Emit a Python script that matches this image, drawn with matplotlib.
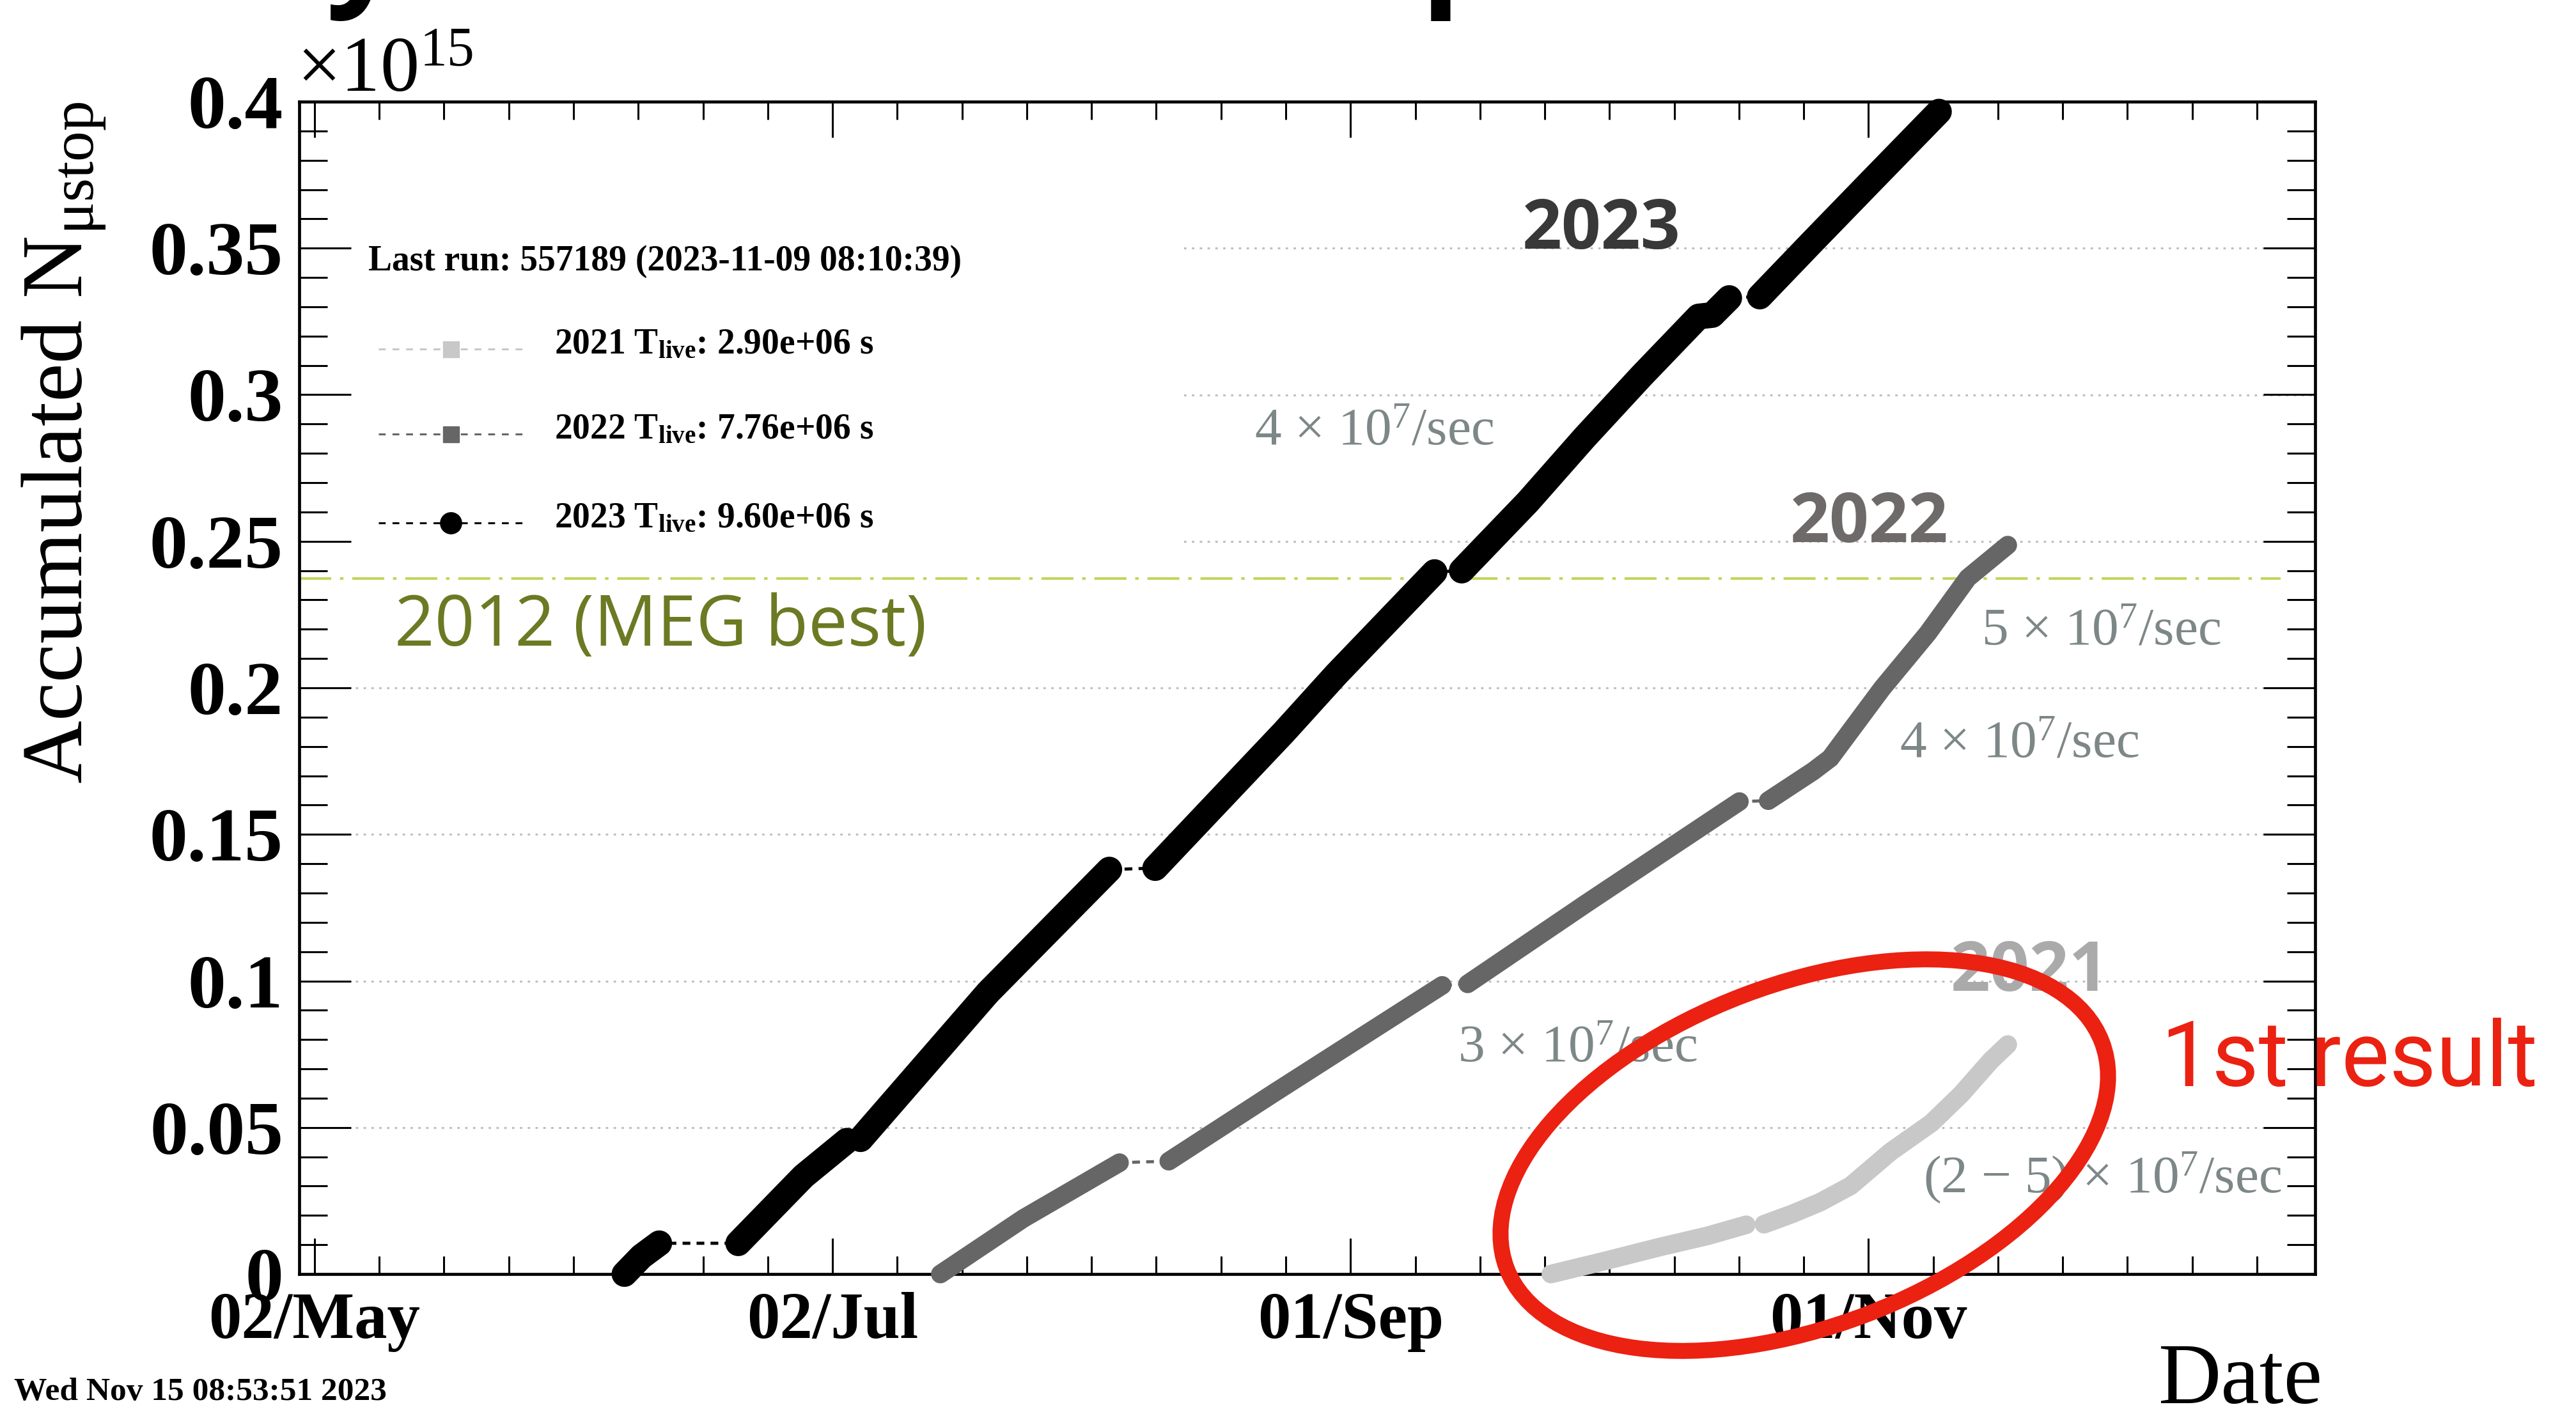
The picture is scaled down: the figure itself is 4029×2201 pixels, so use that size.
import matplotlib

matplotlib.use("Agg")
import matplotlib.dates as mdates
import matplotlib.pyplot as plt
import numpy as np
import pandas as pd
from matplotlib.lines import Line2D
from matplotlib.patches import Ellipse, Rectangle
from matplotlib.ticker import FixedLocator, FuncFormatter, MultipleLocator

W, H, DPI = 4030, 2201, 100
START = pd.Timestamp("2023-05-02")

# accumulated stopped muons (units of 1e15) against days since 2 May;
# each *_breaks entry is the index where a new data-taking period begins
days_2023 = [36.5, 38.5, 40.6, 49.9, 57.6, 62.7, 64.3, 79.3, 93.6, 99.0, 114.2,
             120.3, 131.9, 135.1, 142.9, 149.6, 156.3, 163.0, 164.6, 166.6,
             170.2, 176.5, 183.2, 191.3]
nmu_2023 = [0.0, 0.006, 0.0105, 0.0105, 0.0334, 0.0455, 0.0460, 0.0960, 0.1380,
            0.1385, 0.1850, 0.2045, 0.2395, 0.2400, 0.2635, 0.2855, 0.3065,
            0.3267, 0.3272, 0.3330, 0.3335, 0.3525, 0.3725, 0.3966]
breaks_2023 = [3, 6, 9, 13, 20]

days_2022 = [73.7, 83.5, 94.8, 100.6, 113.0, 132.8, 135.8, 149.8, 167.8, 171.2,
             176.5, 178.5, 184.6, 190.0, 194.7, 199.4]
nmu_2022 = [0.0, 0.0190, 0.0380, 0.0385, 0.0618, 0.0985, 0.0990, 0.1265, 0.1612,
            0.1615, 0.1716, 0.1760, 0.1998, 0.2187, 0.2375, 0.2487]
breaks_2022 = [3, 6, 9]

days_2021 = [145.6, 152.0, 158.4, 164.0, 168.6, 170.7, 174.0, 177.3, 180.9,
             185.6, 190.4, 193.9, 197.4, 199.4]
nmu_2021 = [0.0, 0.0045, 0.0092, 0.0130, 0.0168, 0.0170, 0.0205, 0.0245, 0.0301,
            0.0417, 0.0515, 0.0613, 0.0728, 0.0783]
breaks_2021 = [5]

meg_best = 0.2373
live_labels = ["2021 T$_{\\mathbf{live}}$: 2.90e+06 s",
               "2022 T$_{\\mathbf{live}}$: 7.76e+06 s",
               "2023 T$_{\\mathbf{live}}$: 9.60e+06 s"]
major_dates = ["2023-05-02", "2023-07-02", "2023-09-01", "2023-11-01"]

C2021, C2022, C2023 = "#c8c8c8", "#666666", "#000000"
RATE = "#7e8787"
RED = "#eb2112"

plt.rcParams.update({
    "font.family": "Liberation Serif",
    "mathtext.fontset": "custom",
    "mathtext.rm": "Liberation Serif",
    "mathtext.it": "Liberation Serif:italic",
    "mathtext.bf": "Liberation Serif:bold",
})


def fx(px):
    return px / W


def fy(py):
    return 1 - py / H


def to_num(days):
    return mdates.date2num(START + pd.to_timedelta(np.asarray(days), unit="D"))


def draw_series(ax, days, values, breaks, color, width):
    x = to_num(days)
    # thin dashed connector between runs, thick band for each period
    ax.plot(x, values, color=color, lw=3.5, ls=(0, (2.5, 2)), clip_on=False, zorder=3)
    edges = [0] + breaks + [len(days)]
    for lo, hi in zip(edges[:-1], edges[1:]):
        ax.plot(x[lo:hi], values[lo:hi], color=color, lw=width,
                solid_capstyle="round", solid_joinstyle="round",
                clip_on=False, zorder=4)


fig = plt.figure(figsize=(W / DPI, H / DPI), dpi=DPI)
ax = fig.add_axes([fx(468), fy(1993), fx(3621) - fx(468), fy(159) - fy(1993)])

ax.set_xlim(to_num([-1.8])[0], to_num([235.6])[0])
ax.set_ylim(0, 0.4)

# dotted grid, hidden under the legend box at the top left
for y in np.arange(0.05, 0.36, 0.05):
    ax.axhline(y, xmin=0.028, color="#bdbdbd", lw=2.2, ls=(0, (1.2, 2.8)), zorder=1)
ax.add_patch(Rectangle((0.0, 0.6096), 0.4367, 0.3904, transform=ax.transAxes,
                       facecolor="white", edgecolor="none", zorder=1.5))

ax.axhline(meg_best, xmax=0.983, color="#c3d45c", lw=3,
           ls=(0, (12, 3.3, 1.3, 3.3)), zorder=2)

draw_series(ax, days_2021, nmu_2021, breaks_2021, C2021, 21)
draw_series(ax, days_2022, nmu_2022, breaks_2022, C2022, 21)
draw_series(ax, days_2023, nmu_2023, breaks_2023, C2023, 29)

ax.xaxis.set_major_locator(FixedLocator(mdates.date2num(pd.to_datetime(major_dates))))
ax.xaxis.set_minor_locator(FixedLocator(to_num(np.arange(0, 32) * 61 / 8)))
ax.xaxis.set_major_formatter(mdates.DateFormatter("%d/%b"))
ax.yaxis.set_major_locator(MultipleLocator(0.05))
ax.yaxis.set_minor_locator(MultipleLocator(0.01))
ax.yaxis.set_major_formatter(FuncFormatter(lambda v, _: f"{v:g}"))

ax.tick_params(which="both", direction="in", top=True, right=True, width=2.2)
ax.tick_params(axis="x", which="major", length=40, pad=20, labelsize=74)
ax.tick_params(axis="x", which="minor", length=20)
ax.tick_params(axis="y", which="major", length=58, pad=18, labelsize=86)
ax.tick_params(axis="y", which="minor", length=32)
for label in ax.get_xticklabels() + ax.get_yticklabels():
    label.set_fontweight("bold")
for spine in ax.spines.values():
    spine.set_linewidth(3.4)

# axis titles and multiplier
fig.text(fx(464), fy(143), "×$10^{15}$", fontsize=88, va="baseline", ha="left")
fig.text(fx(128), fy(159), "Accumulated N$_{\\mathrm{μstop}}$", fontsize=98,
         rotation=90, rotation_mode="anchor", ha="right", va="baseline")
fig.text(fx(3632), fy(2195), "Date", fontsize=98, ha="right", va="baseline")
fig.text(fx(22), fy(2190), "Wed Nov 15 08:53:51 2023", fontsize=37,
         fontweight="bold", va="baseline")

# legend block
fig.text(fx(576), fy(423), "Last run: 557189 (2023-11-09 08:10:39)", fontsize=40,
         fontweight="bold", va="baseline")
legend_rows = [(553, C2021, "s", 18), (686, C2022, "s", 18), (825, C2023, "o", 24)]
for (base, color, marker, ms), text in zip(legend_rows, live_labels):
    yl = fy(base - 7)
    fig.add_artist(Line2D([fx(592), fx(818)], [yl, yl], transform=fig.transFigure,
                          color=color, lw=2.2, ls=(0, (3.5, 3.5))))
    fig.add_artist(Line2D([fx(705)], [yl], transform=fig.transFigure, color=color,
                          marker=marker, ms=ms, lw=0))
    fig.text(fx(867), fy(base), text, fontsize=40, fontweight="bold", va="baseline")

# annotations
fig.text(fx(617), fy(1010), "2012 (MEG best)", family="Open Sans", fontsize=79,
         color="#6b7a23", va="baseline")
year_tags = [("2023", 2381, 389, "#383838"), ("2022", 2800, 848, "#6e6a6a"),
             ("2021", 3051, 1550, "#aaaaaa")]
for text, x, y, color in year_tags:
    fig.text(fx(x), fy(y), text, family="Open Sans", fontweight="bold", fontsize=78,
             color=color, va="baseline")
rate_tags = [("4 × $10^{7}$/sec", 1962, 695), ("5 × $10^{7}$/sec", 3099, 1008),
             ("4 × $10^{7}$/sec", 2971, 1184), ("3 × $10^{7}$/sec", 2280, 1660),
             ("(2 − 5) × $10^{7}$/sec", 3008, 1866)]
for text, x, y in rate_tags:
    fig.text(fx(x), fy(y), text, fontsize=60, color=RATE, va="baseline")

fig.add_artist(Ellipse((28.22, 3.94), 9.96, 5.35, angle=20.8,
                       transform=fig.dpi_scale_trans, fill=False,
                       edgecolor=RED, lw=18, zorder=10))
fig.text(fx(3380), fy(1699), "1st result", family="Roboto", fontsize=102,
         color=RED, va="baseline", zorder=10)

# slide title running off the top edge
for ch, x in [("y", 510), ("p", 2222)]:
    fig.text(fx(x), fy(-17), ch, family="Open Sans", fontweight="bold",
             fontsize=150, va="baseline")

fig.savefig("out.png", dpi=DPI)
